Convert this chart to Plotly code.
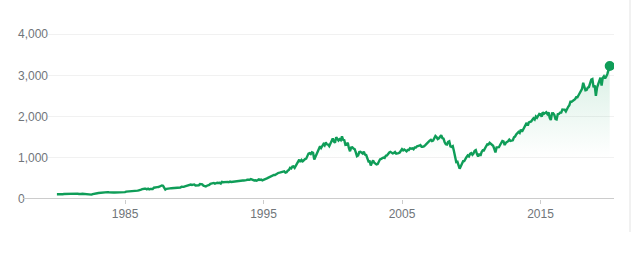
import pandas as pd
import plotly.graph_objects as go

# S&P 500 month-end closes (read/estimated), Jan 1980 - Dec 2019
closes_1980s = [
    114.16, 113.66, 102.09, 106.29, 111.24, 114.24, 121.67, 122.38, 125.46, 127.47, 140.52, 135.76,
    129.55, 131.27, 136.00, 132.81, 132.59, 131.21, 130.92, 122.79, 116.18, 121.89, 126.35, 122.55,
    120.40, 113.11, 111.96, 116.44, 111.88, 109.61, 107.09, 119.51, 120.42, 133.71, 138.54, 140.64,
    145.30, 148.06, 152.96, 164.42, 162.39, 168.11, 162.56, 164.40, 166.07, 163.55, 166.40, 164.93,
    163.41, 157.06, 159.18, 160.05, 150.55, 153.18, 150.66, 166.68, 166.10, 166.09, 163.58, 167.24,
    179.63, 181.18, 180.66, 179.83, 189.55, 191.85, 190.92, 188.63, 182.08, 189.82, 202.17, 211.28,
    211.78, 226.92, 238.90, 235.52, 247.35, 250.84, 236.12, 252.93, 231.32, 243.98, 249.22, 242.17,
    274.08, 284.20, 291.70, 288.36, 290.10, 304.00, 318.66, 329.80, 321.83, 251.79, 230.30, 247.08,
    257.07, 267.82, 258.89, 261.33, 262.16, 273.50, 272.02, 261.52, 271.91, 278.97, 273.70, 277.72,
    297.47, 288.86, 294.87, 309.64, 320.52, 317.98, 346.08, 351.45, 349.15, 340.36, 345.99, 353.40,
]
closes_1990s = [
    329.08, 331.89, 339.94, 330.80, 361.23, 358.02, 356.15, 322.56, 306.05, 304.00, 322.22, 330.22,
    343.93, 367.07, 375.22, 375.35, 389.83, 371.16, 387.81, 395.43, 387.86, 392.46, 375.22, 417.09,
    408.79, 412.70, 403.69, 414.95, 415.35, 408.14, 424.21, 414.03, 417.80, 418.68, 431.35, 435.71,
    438.78, 443.38, 451.67, 440.19, 450.19, 450.53, 448.13, 463.56, 458.93, 467.83, 461.79, 466.45,
    481.61, 467.14, 445.77, 450.91, 456.50, 444.27, 458.26, 475.49, 462.69, 472.35, 453.69, 459.27,
    470.42, 487.39, 500.71, 514.71, 533.40, 544.75, 562.06, 561.88, 584.41, 581.50, 605.37, 615.93,
    636.02, 640.43, 645.50, 654.17, 669.12, 670.63, 639.95, 651.99, 687.33, 705.27, 757.02, 740.74,
    786.16, 790.82, 757.12, 801.34, 848.28, 885.14, 954.31, 899.47, 947.28, 914.62, 955.40, 970.43,
    980.28, 1049.34, 1101.75, 1111.75, 1090.82, 1133.84, 1120.67, 957.28, 1017.01, 1098.67, 1163.63, 1229.23,
    1279.64, 1238.33, 1286.37, 1335.18, 1301.84, 1372.71, 1328.72, 1320.41, 1282.71, 1362.93, 1388.91, 1469.25,
]
closes_2000s = [
    1394.46, 1366.42, 1498.58, 1452.43, 1420.60, 1454.60, 1430.83, 1517.68, 1436.51, 1429.40, 1314.95, 1320.28,
    1366.01, 1239.94, 1160.33, 1249.46, 1255.82, 1224.42, 1211.23, 1133.58, 1040.94, 1059.78, 1139.45, 1148.08,
    1130.20, 1106.73, 1147.39, 1076.92, 1067.14, 989.82, 911.62, 916.07, 815.28, 885.76, 936.31, 879.82,
    855.70, 841.15, 848.18, 916.92, 963.59, 974.50, 990.31, 1008.01, 995.97, 1050.71, 1058.20, 1111.92,
    1131.13, 1144.94, 1126.21, 1107.30, 1120.68, 1140.84, 1101.72, 1104.24, 1114.58, 1130.20, 1173.82, 1211.92,
    1181.27, 1203.60, 1180.59, 1156.85, 1191.50, 1191.33, 1234.18, 1220.33, 1228.81, 1207.01, 1249.48, 1248.29,
    1280.08, 1280.66, 1294.87, 1310.61, 1270.09, 1270.20, 1276.66, 1303.82, 1335.85, 1377.94, 1400.63, 1418.30,
    1438.24, 1406.82, 1420.86, 1482.37, 1530.62, 1503.35, 1455.27, 1473.99, 1526.75, 1549.38, 1481.14, 1468.36,
    1378.55, 1330.63, 1322.70, 1385.59, 1400.38, 1280.00, 1267.38, 1282.83, 1166.36, 968.75, 896.24, 903.25,
    825.88, 735.09, 797.87, 872.81, 919.14, 919.32, 987.48, 1020.62, 1057.08, 1036.19, 1095.63, 1115.10,
]
closes_2010s = [
    1073.87, 1104.49, 1169.43, 1186.69, 1089.41, 1030.71, 1101.60, 1049.33, 1141.20, 1183.26, 1180.55, 1257.64,
    1286.12, 1327.22, 1325.83, 1363.61, 1345.20, 1320.64, 1292.28, 1218.89, 1131.42, 1253.30, 1246.96, 1257.60,
    1312.41, 1365.68, 1408.47, 1397.91, 1310.33, 1362.16, 1379.32, 1406.58, 1440.67, 1412.16, 1416.18, 1426.19,
    1498.11, 1514.68, 1569.19, 1597.57, 1630.74, 1606.28, 1685.73, 1632.97, 1681.55, 1756.54, 1805.81, 1848.36,
    1782.59, 1859.45, 1872.34, 1883.95, 1923.57, 1960.23, 1930.67, 2003.37, 1972.29, 2018.05, 2067.56, 2058.90,
    1994.99, 2104.50, 2067.89, 2085.51, 2107.39, 2063.11, 2103.84, 1972.18, 1920.03, 2079.36, 2080.41, 2043.94,
    1940.24, 1932.23, 2059.74, 2065.30, 2096.95, 2098.86, 2173.60, 2170.95, 2168.27, 2126.15, 2198.81, 2238.83,
    2278.87, 2363.64, 2362.72, 2384.20, 2411.80, 2423.41, 2470.30, 2471.65, 2519.36, 2575.26, 2647.58, 2673.61,
    2823.81, 2713.83, 2640.87, 2648.05, 2705.27, 2718.37, 2816.29, 2901.52, 2913.98, 2711.74, 2760.17, 2506.85,
    2704.10, 2784.49, 2834.40, 2945.83, 2752.06, 2941.76, 2980.38, 2926.46, 2976.74, 3037.56, 3140.98, 3230.78,
]

closes = closes_1980s + closes_1990s + closes_2000s + closes_2010s
dates = pd.date_range("1980-01-31", periods=len(closes), freq="ME")

y_tick_vals = [0, 1000, 2000, 3000, 4000]
y_tick_text = ["0", "1,000", "2,000", "3,000", "4,000"]
x_tick_vals = ["1985-01-01", "1995-01-01", "2005-01-01", "2015-01-01"]
x_tick_text = ["1985", "1995", "2005", "2015"]

GREEN = "#0f9d58"
LABEL = "#70757a"
AXIS = "#cccccc"
FONT = "Liberation Sans, Arial, sans-serif"

fig = go.Figure()
fig.add_trace(go.Scatter(
    x=dates, y=closes, mode="lines",
    line=dict(color=GREEN, width=2.4),
    fill="tozeroy",
    fillgradient=dict(
        type="vertical", start=1000, stop=3300,
        colorscale=[[0, "rgba(15,157,88,0)"], [1, "rgba(15,157,88,0.16)"]],
    ),
    hoverinfo="skip", showlegend=False,
))
fig.add_trace(go.Scatter(
    x=[dates[-1]], y=[closes[-1]], mode="markers",
    marker=dict(color=GREEN, size=10),
    hoverinfo="skip", showlegend=False,
))

fig.update_layout(
    width=632, height=256,
    margin=dict(l=16, r=18, t=30, b=57),
    paper_bgcolor="white", plot_bgcolor="white",
    font=dict(family=FONT, size=12, color=LABEL),
    xaxis=dict(
        domain=[32 / 598, 1],
        range=["1979-06-10", "2020-04-22"],
        tickvals=x_tick_vals, ticktext=x_tick_text,
        ticks="outside", ticklen=4, tickwidth=1, tickcolor=AXIS,
        showgrid=False, showline=False, zeroline=False,
        tickfont=dict(family=FONT, size=12, color=LABEL),
    ),
    yaxis=dict(
        range=[0, 4104],
        anchor="free", position=0,
        tickvals=y_tick_vals, ticktext=y_tick_text,
        ticklabelposition="inside", ticklabeloverflow="allow",
        ticklabelstandoff=-2, ticks="",
        showgrid=True, gridcolor="#f1f1f1", gridwidth=1,
        zeroline=False, showline=False,
        tickfont=dict(family=FONT, size=12, color=LABEL),
    ),
    shapes=[
        dict(type="line", xref="paper", yref="y", x0=7 / 598, x1=1, y0=0, y1=0,
             line=dict(color=AXIS, width=2), layer="above"),
        dict(type="line", xref="paper", yref="paper", x0=614 / 598, x1=614 / 598,
             y0=-33 / 169, y1=199 / 169, line=dict(color="#e3e3e3", width=1)),
    ],
)

fig.write_html("out.html")
